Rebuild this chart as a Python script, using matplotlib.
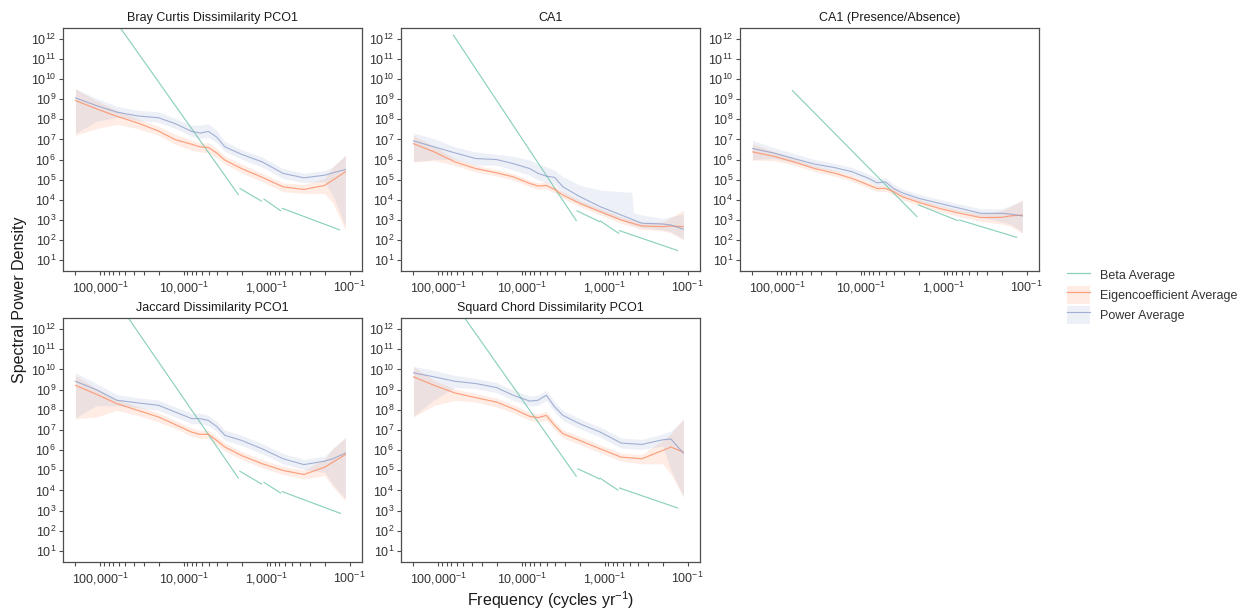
import matplotlib
matplotlib.use("Agg")
import matplotlib.pyplot as plt
from matplotlib.lines import Line2D
from matplotlib.patches import Patch
from matplotlib.ticker import NullLocator

plt.rcParams['font.family'] = ['Liberation Sans', 'DejaVu Sans']
plt.rcParams['mathtext.fontset'] = 'custom'
plt.rcParams['mathtext.rm'] = 'Liberation Sans'
plt.rcParams['mathtext.it'] = 'Liberation Sans:italic'
plt.rcParams['mathtext.bf'] = 'Liberation Sans:bold'

# values are log10 (frequency in cycles/yr, spectral power density)
log_freq = [-5.0, -4.75, -4.5, -4.25, -4.0, -3.8, -3.6, -3.5, -3.4, -3.3,
            -3.2, -3.0, -2.75, -2.5, -2.25, -2.0, -1.9, -1.75]

titles = ['Bray Curtis Dissimilarity PCO1', 'CA1', 'CA1 (Presence/Absence)',
          'Jaccard Dissimilarity PCO1', 'Squard Chord Dissimilarity PCO1']
series_names = ['Beta Average', 'Eigencoefficient Average', 'Power Average']

# Bray Curtis
bray_eig = [8.94, 8.53, 8.15, 7.82, 7.42, 6.99, 6.76, 6.63, 6.60, 6.33, 5.97, 5.55, 5.11, 4.64, 4.51, 4.71, 4.98, 5.39]
bray_eig_lo = [7.21, 7.54, 7.75, 7.54, 7.21, 6.76, 6.46, 6.38, 6.33, 6.10, 5.77, 5.34, 4.89, 4.40, 4.31, 4.31, 3.82, 2.50]
bray_eig_hi = [9.52, 8.94, 8.45, 8.03, 7.65, 7.26, 6.96, 6.83, 6.83, 6.55, 6.17, 5.77, 5.31, 4.84, 4.76, 5.06, 5.64, 6.21]
bray_pow = [9.07, 8.69, 8.36, 8.17, 8.08, 7.79, 7.40, 7.32, 7.40, 7.12, 6.63, 6.26, 5.88, 5.31, 5.09, 5.22, 5.34, 5.50]
bray_pow_lo = [7.30, 7.90, 8.10, 7.95, 7.85, 7.55, 7.15, 7.05, 7.10, 6.85, 6.40, 6.02, 5.62, 5.05, 4.85, 4.90, 4.20, 2.70]
bray_pow_hi = [9.52, 9.05, 8.65, 8.45, 8.38, 8.05, 7.70, 7.72, 7.78, 7.45, 6.90, 6.50, 6.12, 5.55, 5.32, 5.45, 5.65, 6.20]
bray_beta_x = [[-4.50, -3.04], [-3.02, -2.76], [-2.73, -2.53], [-2.51, -1.82]]
bray_beta_y = [[12.79, 4.26], [4.56, 3.93], [4.03, 3.45], [3.57, 2.50]]

# CA1
ca1_eig = [6.79, 6.38, 5.88, 5.55, 5.34, 5.14, 4.81, 4.68, 4.71, 4.51, 4.23, 3.82, 3.40, 2.99, 2.69, 2.66, 2.69, 2.66]
ca1_eig_lo = [5.88, 5.95, 5.70, 5.38, 5.18, 4.98, 4.65, 4.52, 4.53, 4.35, 4.07, 3.66, 3.24, 2.83, 2.52, 2.45, 2.35, 2.00]
ca1_eig_hi = [7.21, 6.65, 6.05, 5.72, 5.50, 5.30, 4.97, 4.84, 4.88, 4.67, 4.39, 3.98, 3.56, 3.15, 2.86, 2.90, 3.10, 3.49]
ca1_pow = [6.93, 6.63, 6.33, 6.05, 6.00, 5.80, 5.55, 5.31, 5.17, 5.11, 4.64, 4.16, 3.65, 3.24, 2.83, 2.79, 2.74, 2.53]
ca1_band_freq = [-5.0, -4.75, -4.5, -4.25, -4.0, -3.8, -3.6, -3.5, -3.4, -3.3,
                 -3.2, -3.0, -2.75, -2.5, -2.37, -2.35, -2.25, -2.0, -1.9, -1.75]
ca1_pow_lo = [5.90, 6.00, 6.00, 5.72, 5.72, 5.47, 5.22, 4.98, 4.84, 4.78, 4.31, 3.82, 3.36, 2.99, 2.75, 2.72, 2.61, 2.50, 2.40, 2.05]
ca1_pow_hi = [7.32, 7.04, 6.63, 6.38, 6.26, 6.17, 5.97, 5.80, 5.64, 5.47, 5.14, 4.73, 4.48, 4.40, 4.37, 3.35, 3.24, 3.07, 3.16, 3.30]
ca1_beta_x = [[-4.52, -3.04], [-3.03, -2.76], [-2.75, -2.53], [-2.52, -1.82]]
ca1_beta_y = [[12.20, 2.96], [3.44, 2.91], [2.94, 2.33], [2.46, 1.47]]

# CA1 presence/absence
pa_eig = [6.38, 6.17, 5.88, 5.55, 5.31, 5.06, 4.73, 4.56, 4.56, 4.40, 4.15, 3.87, 3.57, 3.32, 3.11, 3.12, 3.19, 3.24]
pa_eig_lo = [5.97, 5.95, 5.72, 5.40, 5.16, 4.91, 4.58, 4.41, 4.41, 4.25, 4.00, 3.72, 3.42, 3.15, 2.92, 2.79, 2.70, 2.33]
pa_eig_hi = [6.79, 6.42, 6.05, 5.70, 5.46, 5.21, 4.88, 4.71, 4.71, 4.55, 4.30, 4.02, 3.72, 3.48, 3.30, 3.45, 3.65, 3.98]
pa_pow = [6.55, 6.33, 6.05, 5.77, 5.59, 5.39, 5.06, 4.84, 4.89, 4.56, 4.35, 4.07, 3.82, 3.57, 3.32, 3.32, 3.29, 3.19]
pa_pow_lo = [6.00, 6.05, 5.85, 5.60, 5.42, 5.22, 4.90, 4.68, 4.72, 4.40, 4.20, 3.92, 3.66, 3.40, 3.15, 2.90, 2.80, 2.40]
pa_pow_hi = [6.96, 6.60, 6.30, 6.00, 5.80, 5.60, 5.27, 5.05, 5.10, 4.77, 4.55, 4.27, 4.02, 3.78, 3.55, 3.55, 3.70, 3.95]
pa_beta_x = [[-4.52, -3.02], [-3.00, -2.53], [-2.51, -1.82]]
pa_beta_y = [[9.44, 3.16], [3.74, 2.96], [2.99, 2.13]]

# Jaccard
jac_eig = [9.21, 8.77, 8.30, 7.97, 7.64, 7.27, 6.89, 6.78, 6.78, 6.48, 6.15, 5.73, 5.32, 4.99, 4.79, 5.15, 5.40, 5.78]
jac_eig_lo = [7.56, 7.64, 7.97, 7.72, 7.39, 7.07, 6.69, 6.58, 6.58, 6.28, 5.95, 5.53, 5.12, 4.79, 4.57, 4.74, 4.16, 3.49]
jac_eig_hi = [9.71, 9.05, 8.50, 8.17, 7.84, 7.47, 7.09, 6.98, 6.98, 6.68, 6.35, 5.93, 5.52, 5.19, 5.00, 5.56, 6.06, 6.64]
jac_pow = [9.41, 9.00, 8.47, 8.34, 8.22, 7.89, 7.56, 7.56, 7.47, 7.17, 6.73, 6.48, 6.06, 5.57, 5.28, 5.45, 5.57, 5.85]
jac_pow_lo = [7.60, 8.20, 8.20, 8.10, 7.97, 7.64, 7.31, 7.31, 7.22, 6.92, 6.48, 6.23, 5.81, 5.32, 5.03, 4.90, 4.30, 3.60]
jac_pow_hi = [9.83, 9.30, 8.75, 8.60, 8.48, 8.15, 7.82, 7.82, 7.73, 7.43, 6.99, 6.74, 6.32, 5.83, 5.54, 5.70, 6.10, 6.60]
jac_beta_x = [[-4.45, -3.04], [-3.02, -2.76], [-2.73, -2.53], [-2.51, -1.81]]
jac_beta_y = [[13.07, 4.62], [4.95, 4.32], [4.40, 3.87], [3.94, 2.86]]

# Squard Chord
ch_eig = [9.63, 9.21, 8.83, 8.60, 8.38, 8.05, 7.67, 7.61, 7.72, 7.22, 6.81, 6.48, 6.06, 5.65, 5.57, 5.98, 6.15, 5.90]
ch_eig_lo = [7.64, 8.22, 8.47, 8.38, 8.14, 7.85, 7.47, 7.41, 7.47, 7.02, 6.61, 6.28, 5.86, 5.45, 5.32, 5.32, 4.82, 3.66]
ch_eig_hi = [10.13, 9.46, 9.03, 8.80, 8.58, 8.25, 7.87, 7.80, 7.92, 7.42, 7.01, 6.68, 6.26, 5.85, 5.78, 6.48, 6.81, 7.56]
ch_pow = [9.83, 9.63, 9.41, 9.30, 9.10, 8.72, 8.43, 8.47, 8.72, 8.14, 7.72, 7.31, 6.89, 6.35, 6.28, 6.51, 6.55, 5.85]
ch_pow_lo = [7.70, 8.50, 9.10, 9.05, 8.85, 8.47, 8.18, 8.22, 8.45, 7.89, 7.47, 7.06, 6.64, 6.10, 6.03, 6.20, 5.00, 3.70]
ch_pow_hi = [10.15, 9.95, 9.70, 9.55, 9.35, 8.97, 8.68, 8.72, 8.97, 8.39, 7.97, 7.56, 7.14, 6.60, 6.53, 6.80, 6.95, 7.50]
ch_beta_x = [[-4.45, -3.04], [-3.02, -2.76], [-2.75, -2.54], [-2.52, -1.82]]
ch_beta_y = [[12.94, 4.70], [5.07, 4.57], [4.60, 4.02], [4.12, 3.13]]

# x axis ticks: periods (yr) and which ones carry a label
tick_periods = [100000, 50000, 45000, 40000, 35000, 30000, 25000, 20000, 15000,
                10000, 5000, 4500, 4000, 3500, 3000, 2500, 2000, 1500,
                1000, 500, 450, 400, 350, 300, 250, 200, 150, 100, 50]
label_periods = [50000, 5000, 500, 50]
label_texts = [r'100,000$^{-1}$', r'10,000$^{-1}$', r'1,000$^{-1}$', r'100$^{-1}$']
y_exponents = list(range(1, 13))

panels = [
    dict(eig=bray_eig, eig_lo=bray_eig_lo, eig_hi=bray_eig_hi, pow=bray_pow,
         band_x=log_freq, pow_lo=bray_pow_lo, pow_hi=bray_pow_hi, bx=bray_beta_x, by=bray_beta_y),
    dict(eig=ca1_eig, eig_lo=ca1_eig_lo, eig_hi=ca1_eig_hi, pow=ca1_pow,
         band_x=ca1_band_freq, pow_lo=ca1_pow_lo, pow_hi=ca1_pow_hi, bx=ca1_beta_x, by=ca1_beta_y),
    dict(eig=pa_eig, eig_lo=pa_eig_lo, eig_hi=pa_eig_hi, pow=pa_pow,
         band_x=log_freq, pow_lo=pa_pow_lo, pow_hi=pa_pow_hi, bx=pa_beta_x, by=pa_beta_y),
    dict(eig=jac_eig, eig_lo=jac_eig_lo, eig_hi=jac_eig_hi, pow=jac_pow,
         band_x=log_freq, pow_lo=jac_pow_lo, pow_hi=jac_pow_hi, bx=jac_beta_x, by=jac_beta_y),
    dict(eig=ch_eig, eig_lo=ch_eig_lo, eig_hi=ch_eig_hi, pow=ch_pow,
         band_x=log_freq, pow_lo=ch_pow_lo, pow_hi=ch_pow_hi, bx=ch_beta_x, by=ch_beta_y),
]

beta_col = '#66c2a5'
eig_col = '#fc8d62'
pow_col = '#8da0cb'
frame_col = '#4d4d4d'
text_col = '#333333'

W, H = 1242, 612
fig = plt.figure(figsize=(W / 100, H / 100), dpi=100)
# panel boxes in pixels: left, top, width, height
boxes = [(63, 28, 299, 243), (401, 28, 299, 243), (740, 28, 299, 243),
         (63, 318, 299, 244), (401, 318, 299, 244)]


def pw(v):
    return [10 ** a for a in v]


for p, title, (lx, ty, bw, bh) in zip(panels, titles, boxes):
    ax = fig.add_axes([lx / W, 1 - (ty + bh) / H, bw / W, bh / H])
    ax.set_xscale('log')
    ax.set_yscale('log')

    ax.fill_between(pw(log_freq), pw(p['eig_lo']), pw(p['eig_hi']),
                    color=eig_col, alpha=0.16, lw=0)
    ax.fill_between(pw(p['band_x']), pw(p['pow_lo']), pw(p['pow_hi']),
                    color=pow_col, alpha=0.15, lw=0)
    for sx, sy in zip(p['bx'], p['by']):
        ax.plot(pw(sx), pw(sy), color=beta_col, lw=0.85, alpha=0.75)
    ax.plot(pw(log_freq), pw(p['eig']), color=eig_col, lw=0.85, alpha=0.8)
    ax.plot(pw(log_freq), pw(p['pow']), color=pow_col, lw=0.8, alpha=0.8)

    ax.set_xlim(10 ** -5.15, 10 ** -1.55)
    ax.set_ylim(10 ** 0.45, 10 ** 12.55)

    ax.set_yticks([10.0 ** k for k in y_exponents])
    ax.set_yticklabels([r'$10^{%d}$' % k for k in y_exponents])
    ax.yaxis.set_minor_locator(NullLocator())
    ax.set_xticks([1.0 / t for t in tick_periods])
    ax.set_xticklabels([''] * len(tick_periods))
    ax.xaxis.set_minor_locator(NullLocator())
    for per, txt in zip(label_periods, label_texts):
        ax.text(1.0 / per, -0.035, txt, transform=ax.get_xaxis_transform(),
                ha='center', va='top', fontsize=9, color=text_col)

    ax.tick_params(axis='both', length=3, width=0.8, color=frame_col,
                   labelsize=9, labelcolor=text_col, pad=2)
    for s in ax.spines.values():
        s.set_color(frame_col)
        s.set_linewidth(0.9)
    ax.set_title(title, fontsize=9, color='#1a1a1a', pad=5)

fig.text(20 / W, 1 - 300 / H, 'Spectral Power Density', rotation=90,
         ha='center', va='center', fontsize=11.5, color='#1a1a1a')
fig.text(551 / W, 1 - 600 / H, r'Frequency (cycles yr$^{-1}$)',
         ha='center', va='center', fontsize=11.5, color='#1a1a1a')

handles = [
    Line2D([], [], color=beta_col, lw=0.9, alpha=0.75),
    (Patch(facecolor=eig_col, alpha=0.16, lw=0), Line2D([], [], color=eig_col, lw=0.9, alpha=0.8)),
    (Patch(facecolor=pow_col, alpha=0.15, lw=0), Line2D([], [], color=pow_col, lw=0.8, alpha=0.8)),
]
fig.legend(handles, series_names, loc='center left',
           bbox_to_anchor=(1062 / W, 1 - 295 / H), frameon=False, fontsize=9,
           handlelength=1.85, handleheight=1.85, labelspacing=0.12,
           handletextpad=0.8, borderaxespad=0, labelcolor=text_col)

fig.savefig('out.png', dpi=100)
